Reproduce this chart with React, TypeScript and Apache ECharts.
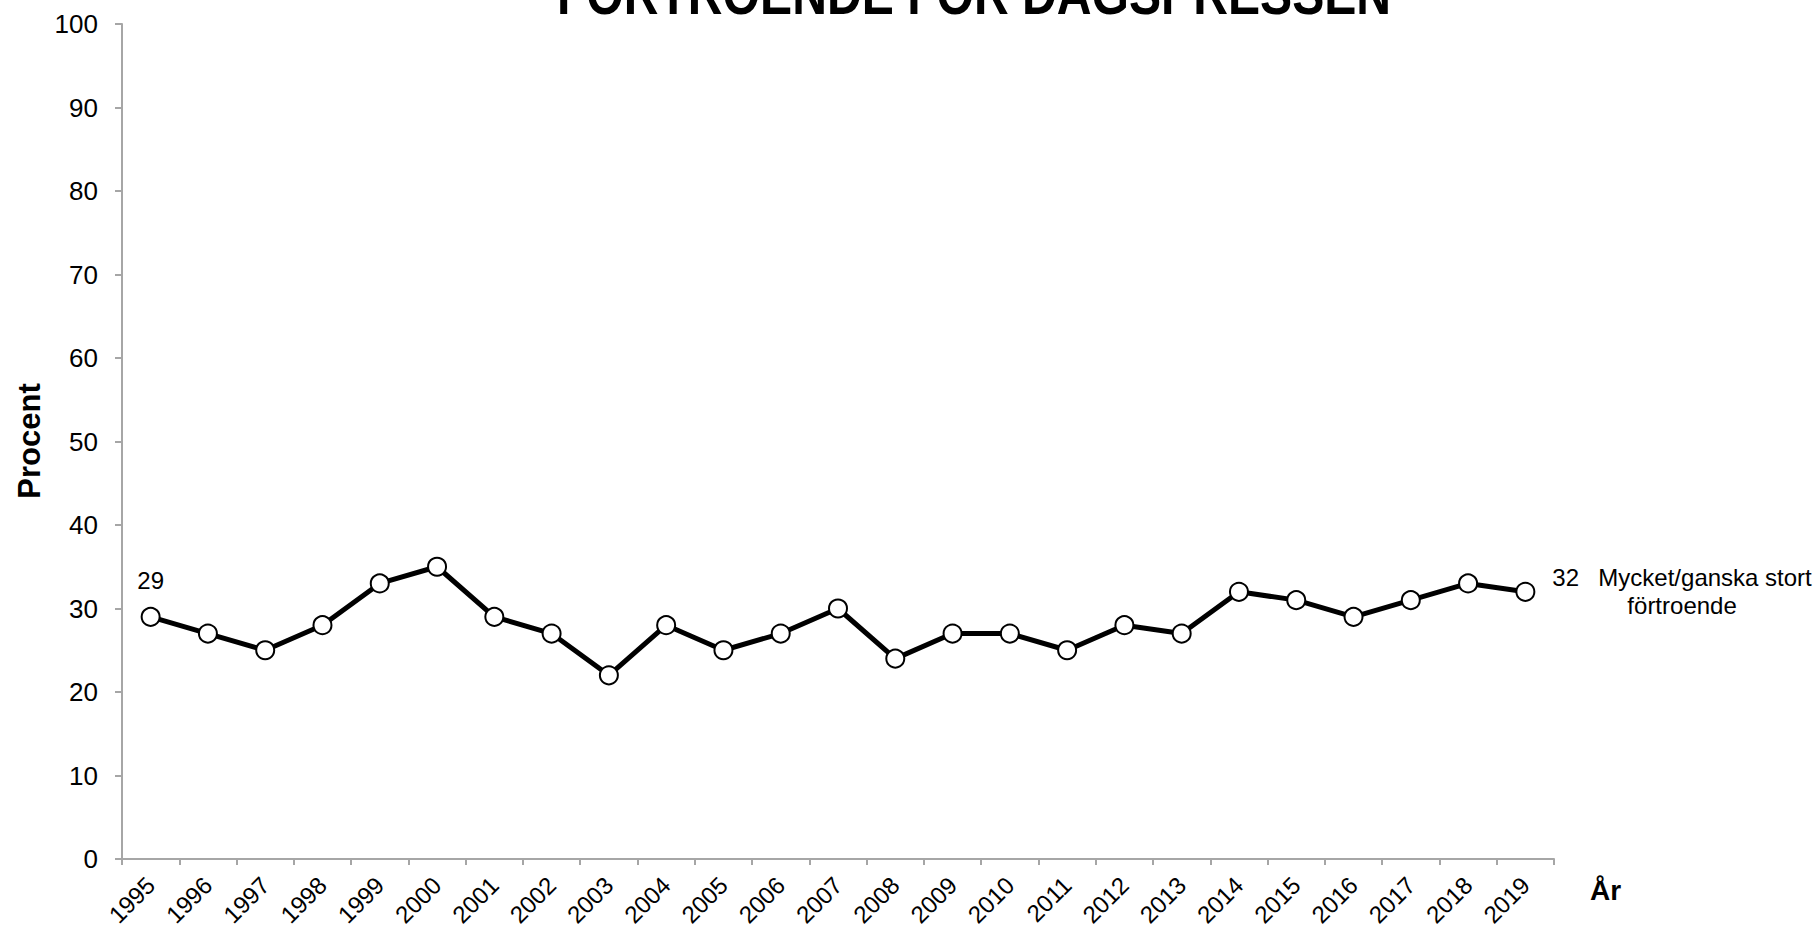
import React, { useEffect, useRef } from "react";
import * as echarts from "echarts";

const years = ["1995","1996","1997","1998","1999","2000","2001","2002","2003","2004","2005","2006","2007","2008","2009","2010","2011","2012","2013","2014","2015","2016","2017","2018","2019"];
const trustValues = [29,27,25,28,33,35,29,27,22,28,25,27,30,24,27,27,25,28,27,32,31,29,31,33,32];
const yTicks = { min: 0, max: 100, interval: 10 };
const titleText = "FÖRTROENDE FÖR DAGSPRESSEN";
const yName = "Procent";
const xName = "År";
const seriesName = "Mycket/ganska stort förtroende";
const seriesNameLines = ["Mycket/ganska stort", "förtroende"];

const FONT = "'Liberation Sans', Arial, sans-serif";

export default function App() {
  const ref = useRef<HTMLDivElement>(null);
  useEffect(() => {
    if (!ref.current) return;
    const chart = echarts.init(ref.current, null, { renderer: "svg" });
    const last = trustValues.length - 1;
    const data = trustValues.map((v, i) => {
      if (i === 0) {
        return { value: v, label: { show: true, position: "top", distance: 14, formatter: "{c}" } };
      }
      return { value: v };
    });
    chart.setOption({
      animation: false,
      backgroundColor: "#ffffff",
      textStyle: { fontFamily: FONT },
      grid: { left: 122, right: 262, top: 24, bottom: 73, containLabel: false },
      xAxis: {
        type: "category",
        data: years,
        boundaryGap: true,
        axisLine: { show: true, lineStyle: { color: "#a6a6a6", width: 2 } },
        axisTick: { show: true, alignWithLabel: false, length: 6, lineStyle: { color: "#a6a6a6", width: 2 } },
        axisLabel: { rotate: 45, margin: 22, fontSize: 24, color: "#000", fontFamily: FONT, interval: 0 },
        splitLine: { show: false },
      },
      yAxis: {
        type: "value",
        min: yTicks.min,
        max: yTicks.max,
        interval: yTicks.interval,
        axisLine: { show: true, lineStyle: { color: "#a6a6a6", width: 2 } },
        axisTick: { show: true, length: 7, lineStyle: { color: "#a6a6a6", width: 2 } },
        axisLabel: { margin: 24, fontSize: 26, color: "#000", fontFamily: FONT },
        splitLine: { show: false },
      },
      series: [
        {
          name: seriesName,
          type: "line",
          data,
          symbol: "circle",
          symbolSize: 18,
          lineStyle: { color: "#000", width: 5 },
          itemStyle: { color: "#fff", borderColor: "#000", borderWidth: 2 },
          label: { show: false, color: "#000", fontSize: 24, fontFamily: FONT },
          endLabel: {
            show: true,
            distance: 27,
            offset: [0, 0],
            color: "#000",
            fontFamily: FONT,
            fontSize: 24,
            formatter: () =>
              `{v|${trustValues[last]}}{n|${seriesNameLines[0]}}\n{m|${seriesNameLines[1]}}`,
            rich: {
              v: { width: 46, fontSize: 24, color: "#000", fontFamily: FONT, lineHeight: 28 },
              n: { fontSize: 24, color: "#000", fontFamily: FONT, lineHeight: 28 },
              m: { fontSize: 24, color: "#000", fontFamily: FONT, lineHeight: 28, padding: [0, 0, 0, 75] },
            },
          },
        },
      ],
      graphic: [
        {
          type: "text",
          x: 974,
          y: -6,
          scaleX: 0.83,
          style: { text: titleText, font: `bold 58px ${FONT}`, fill: "#000", align: "center", verticalAlign: "middle" },
        },
        {
          type: "text",
          x: 29,
          y: 441,
          rotation: Math.PI / 2,
          style: { text: yName, font: `bold 31px ${FONT}`, fill: "#000", align: "center", verticalAlign: "middle" },
        },
        {
          type: "text",
          x: 1590,
          y: 890,
          style: { text: xName, font: `bold 28px ${FONT}`, fill: "#000", align: "left", verticalAlign: "middle" },
        },
      ],
    });
    return () => chart.dispose();
  }, []);
  return (
    <div
      ref={ref}
      style={{ position: "fixed", left: 0, top: 0, width: 1816, height: 932, background: "#fff" }}
    />
  );
}
